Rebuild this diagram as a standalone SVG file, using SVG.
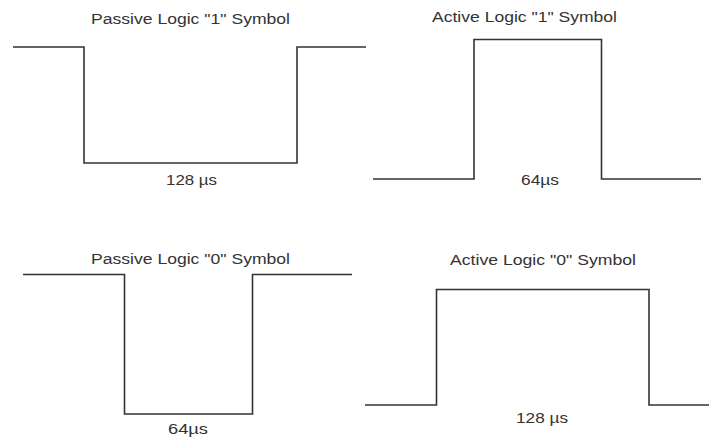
<svg xmlns="http://www.w3.org/2000/svg" width="709" height="439" viewBox="0 0 709 439">
<style>
.w{fill:none;stroke:#333;stroke-width:1.6;stroke-linejoin:miter}
.t{font-family:"Liberation Sans",Arial,sans-serif;font-size:15.5px;fill:#333}
</style>
<rect width="709" height="439" fill="#fff"/>
<g id="passive1">
<polyline class="w" points="13,47 84,47 84,163 297,163 297,47 366,47"/>
<text class="t" x="91" y="24" textLength="199" lengthAdjust="spacingAndGlyphs">Passive Logic "1" Symbol</text>
<text class="t" x="166" y="185" textLength="51" lengthAdjust="spacingAndGlyphs">128 µs</text>
</g>
<g id="active1">
<polyline class="w" points="373,179 474,179 474,39.5 601.5,39.5 601.5,179 701,179"/>
<text class="t" x="432" y="22" textLength="185" lengthAdjust="spacingAndGlyphs">Active Logic "1" Symbol</text>
<text class="t" x="521" y="185" textLength="38" lengthAdjust="spacingAndGlyphs">64µs</text>
</g>
<g id="passive0">
<polyline class="w" points="23,274.5 124.5,274.5 124.5,414 252.5,414 252.5,274.5 352,274.5"/>
<text class="t" x="91" y="263.5" textLength="199" lengthAdjust="spacingAndGlyphs">Passive Logic "0" Symbol</text>
<text class="t" x="168" y="434" textLength="40" lengthAdjust="spacingAndGlyphs">64µs</text>
</g>
<g id="active0">
<polyline class="w" points="365,405 436.5,405 436.5,289.5 649,289.5 649,405 710,405"/>
<text class="t" x="450" y="264.5" textLength="186" lengthAdjust="spacingAndGlyphs">Active Logic "0" Symbol</text>
<text class="t" x="516" y="423" textLength="52" lengthAdjust="spacingAndGlyphs">128 µs</text>
</g>
<g id="connectors"></g>
</svg>
